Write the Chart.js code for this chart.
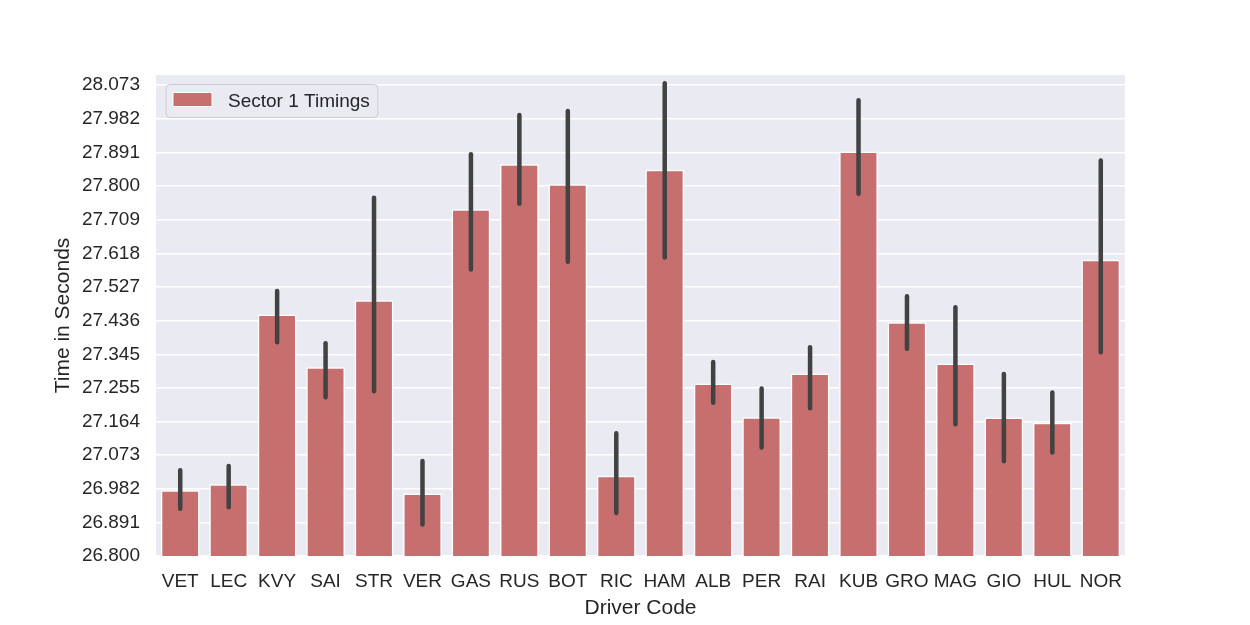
<!DOCTYPE html>
<html>
<head>
<meta charset="utf-8">
<script src="https://cdn.jsdelivr.net/npm/chart.js@4.4.0/dist/chart.umd.min.js"></script>
<style>
    html, body { margin: 0; padding: 0; background: #ffffff; }
    #wrap { width: 1250px; height: 625px; }
</style>
</head>
<body>
<div id="wrap"><canvas id="sectorChart" width="1250" height="625"></canvas></div>
<script>
// Driver codes along the x axis
const drivers = ['VET', 'LEC', 'KVY', 'SAI', 'STR', 'VER', 'GAS', 'RUS', 'BOT', 'RIC',
                 'HAM', 'ALB', 'PER', 'RAI', 'KUB', 'GRO', 'MAG', 'GIO', 'HUL', 'NOR'];

// Mean sector 1 time per driver (bar heights)
const sector1Mean = [26.978, 26.994, 27.453, 27.310, 27.491, 26.969, 27.737, 27.859, 27.805, 27.017,
                     27.844, 27.266, 27.175, 27.293, 27.893, 27.432, 27.320, 27.174, 27.160, 27.601];

// Confidence interval ends (error bars)
const sector1Low  = [26.928, 26.932, 27.378, 27.229, 27.245, 26.885, 27.574, 27.752, 27.595, 26.916,
                     27.607, 27.214, 27.093, 27.199, 27.779, 27.360, 27.156, 27.056, 27.080, 27.351];
const sector1High = [27.032, 27.043, 27.516, 27.375, 27.768, 27.057, 27.886, 27.992, 28.003, 27.132,
                     28.078, 27.324, 27.253, 27.364, 28.032, 27.502, 27.472, 27.292, 27.242, 27.869];

// Y axis ticks as printed on the chart
const yTickValues = [26.800, 26.891, 26.982, 27.073, 27.164, 27.255, 27.345, 27.436,
                     27.527, 27.618, 27.709, 27.800, 27.891, 27.982, 28.073];
const yTickLabels = ['26.800', '26.891', '26.982', '27.073', '27.164', '27.255', '27.345', '27.436',
                     '27.527', '27.618', '27.709', '27.800', '27.891', '27.982', '28.073'];

const FONT = '"Liberation Sans", Arial, sans-serif';
const BAR_COLOR = '#C76E6E';
const TEXT_COLOR = '#262626';

// Grey plot background like seaborn darkgrid
const plotBackground = {
    id: 'plotBackground',
    beforeDraw(chart) {
        const { ctx, chartArea } = chart;
        ctx.save();
        ctx.fillStyle = '#EAEAF2';
        ctx.fillRect(chartArea.left, chartArea.top,
                     chartArea.right - chartArea.left, chartArea.bottom - chartArea.top);
        ctx.restore();
    }
};

// Draw the confidence interval lines on top of the bars
const errorBars = {
    id: 'errorBars',
    afterDatasetsDraw(chart) {
        const { ctx } = chart;
        const xScale = chart.scales.x;
        const yScale = chart.scales.y;
        ctx.save();
        ctx.strokeStyle = '#424242';
        ctx.lineWidth = 4.5;
        ctx.lineCap = 'round';
        drivers.forEach((d, i) => {
            const x = xScale.getPixelForValue(i);
            ctx.beginPath();
            ctx.moveTo(x, yScale.getPixelForValue(sector1Low[i]));
            ctx.lineTo(x, yScale.getPixelForValue(sector1High[i]));
            ctx.stroke();
        });
        ctx.restore();
    }
};

// Legend box inside the upper left corner of the plot
const insideLegend = {
    id: 'insideLegend',
    afterDraw(chart) {
        const { ctx, chartArea } = chart;
        const label = chart.data.datasets[0].label;
        ctx.save();
        ctx.font = '19px ' + FONT;
        const textWidth = ctx.measureText(label).width;
        const bx = chartArea.left + 10;
        const by = chartArea.top + 9.5;
        const bw = 62 + textWidth + 8;
        const bh = 33;

        ctx.beginPath();
        ctx.roundRect(bx, by, bw, bh, 4);
        ctx.fillStyle = 'rgba(234, 234, 242, 0.8)';
        ctx.fill();
        ctx.strokeStyle = '#CCCCCC';
        ctx.lineWidth = 1;
        ctx.stroke();

        ctx.fillStyle = BAR_COLOR;
        ctx.fillRect(bx + 7, by + 8, 39, 14);
        ctx.strokeStyle = '#ffffff';
        ctx.lineWidth = 1;
        ctx.strokeRect(bx + 7, by + 8, 39, 14);

        ctx.fillStyle = TEXT_COLOR;
        ctx.textBaseline = 'middle';
        ctx.textAlign = 'left';
        ctx.fillText(label, bx + 62, by + bh / 2 + 1);
        ctx.restore();
    }
};

const ctx = document.getElementById('sectorChart').getContext('2d');
const sectorChart = new Chart(ctx, {
    type: 'bar',
    data: {
        labels: drivers,
        datasets: [{
            label: 'Sector 1 Timings',
            data: sector1Mean,
            backgroundColor: BAR_COLOR,
            borderColor: '#ffffff',
            borderWidth: 1.5,
            barPercentage: 0.8,
            categoryPercentage: 1.0
        }]
    },
    options: {
        responsive: false,
        animation: false,
        layout: {
            padding: { top: 75, right: 125, bottom: 0, left: 0 }
        },
        plugins: {
            legend: { display: false },
            tooltip: { enabled: false }
        },
        scales: {
            x: {
                grid: { display: false, drawTicks: false },
                border: { display: false },
                ticks: {
                    color: TEXT_COLOR,
                    font: { family: FONT, size: 19 },
                    padding: 14,
                    maxRotation: 0,
                    autoSkip: false
                },
                title: {
                    display: true,
                    text: 'Driver Code',
                    color: TEXT_COLOR,
                    font: { family: FONT, size: 21 },
                    padding: { top: 0, bottom: 4 }
                },
                afterFit(scale) { scale.height = 69; }
            },
            y: {
                min: 26.8,
                max: 28.1,
                grid: { color: '#ffffff', lineWidth: 1.5, drawTicks: false },
                border: { display: false },
                ticks: {
                    color: TEXT_COLOR,
                    font: { family: FONT, size: 19 },
                    padding: 16,
                    callback: (value, index) => yTickLabels[index]
                },
                afterBuildTicks(scale) {
                    scale.ticks = yTickValues.map(v => ({ value: v }));
                },
                title: {
                    display: true,
                    text: 'Time in Seconds',
                    color: TEXT_COLOR,
                    font: { family: FONT, size: 21 },
                    padding: { top: 51, bottom: 0 }
                },
                afterFit(scale) { scale.width = 156; }
            }
        }
    },
    plugins: [plotBackground, errorBars, insideLegend]
});
</script>
</body>
</html>
